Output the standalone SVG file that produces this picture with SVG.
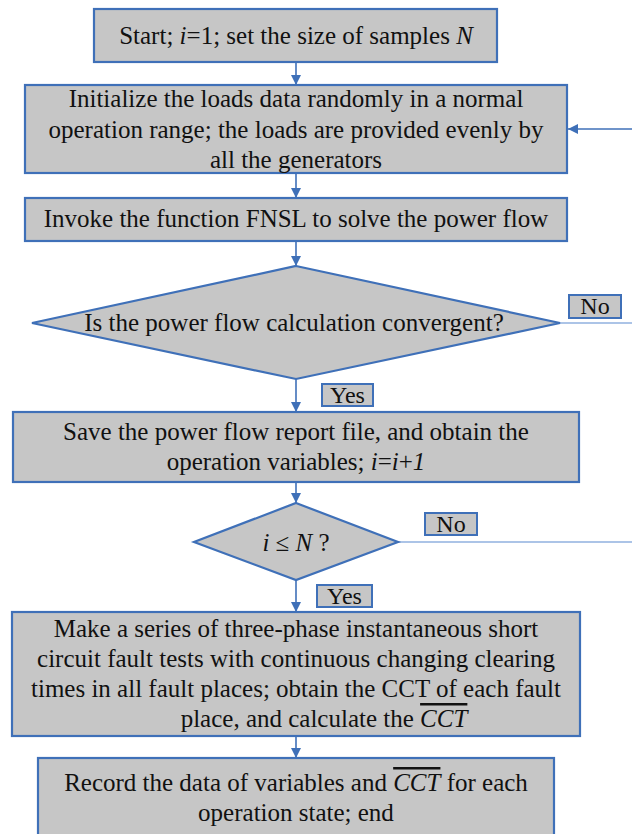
<svg xmlns="http://www.w3.org/2000/svg" width="632" height="834" viewBox="0 0 632 834">
<defs>
<marker id="ah" viewBox="0 0 10 10" refX="10" refY="5" markerWidth="10" markerHeight="10" markerUnits="userSpaceOnUse" orient="auto">
<path d="M0,0 L10,5 L0,10 Z" fill="#3f70b8"/>
</marker>
</defs>
<rect width="632" height="834" fill="#ffffff"/>
<g id="connectors" stroke="#3f70b8" stroke-width="1.6" fill="none">
<line x1="296" y1="62" x2="296" y2="85" marker-end="url(#ah)"/>
<line x1="296" y1="173" x2="296" y2="198" marker-end="url(#ah)"/>
<line x1="296" y1="241" x2="296" y2="266" marker-end="url(#ah)"/>
<line x1="296" y1="379" x2="296" y2="412" marker-end="url(#ah)"/>
<line x1="296" y1="482" x2="296" y2="503" marker-end="url(#ah)"/>
<line x1="296" y1="580" x2="296" y2="612" marker-end="url(#ah)"/>
<line x1="296" y1="736" x2="296" y2="758" marker-end="url(#ah)"/>
<line x1="560" y1="323" x2="632" y2="323" stroke="#5b8ad0" stroke-width="1.2"/>
<line x1="398" y1="542" x2="632" y2="542" stroke="#5b8ad0" stroke-width="1.2"/>
<line x1="632" y1="129" x2="568" y2="129" marker-end="url(#ah)"/>
</g>
<g id="nodes" fill="#c6c6c6" stroke="#3f70b8" stroke-width="2.2">
<g id="start"><rect x="94" y="9" width="403" height="53"/></g>
<g id="init"><rect x="25" y="85" width="542" height="88"/></g>
<g id="invoke"><rect x="25" y="198" width="542" height="43"/></g>
<g id="converge"><polygon points="296,266 560,323 296,379 32,323"/></g>
<g id="no1"><rect x="569" y="295" width="52" height="23" stroke-width="2"/></g>
<g id="yes1"><rect x="322" y="384" width="51" height="22" stroke-width="2"/></g>
<g id="save"><rect x="13" y="412" width="566" height="70"/></g>
<g id="check"><polygon points="296,503 398,542 296,580 194,542"/></g>
<g id="no2"><rect x="425" y="513" width="52" height="22" stroke-width="2"/></g>
<g id="yes2"><rect x="317" y="585" width="55" height="22" stroke-width="2"/></g>
<g id="fault"><rect x="12" y="612" width="568" height="124"/></g>
<g id="record"><rect x="38" y="758" width="516" height="90"/></g>
</g>
<g id="labels" font-family="Liberation Serif" font-size="25" text-anchor="middle" fill="#111111">
<text x="296" y="44">Start; <tspan font-style="italic">i</tspan>=1; set the size of samples <tspan font-style="italic">N</tspan></text>
<text x="296" y="107">Initialize the loads data randomly in a normal</text>
<text x="296" y="138">operation range; the loads are provided evenly by</text>
<text x="296" y="168">all the generators</text>
<text x="296" y="227">Invoke the function FNSL to solve the power flow</text>
<text x="294" y="331">Is the power flow calculation convergent?</text>
<text x="595" y="314" font-size="24">No</text>
<text x="347.5" y="403" font-size="24">Yes</text>
<text x="296" y="440">Save the power flow report file, and obtain the</text>
<text x="296" y="470">operation variables; <tspan font-style="italic">i</tspan>=<tspan font-style="italic">i</tspan>+<tspan font-style="italic">1</tspan></text>
<text x="296" y="551"><tspan font-style="italic">i</tspan> ≤ <tspan font-style="italic">N</tspan> ?</text>
<text x="451" y="532" font-size="24">No</text>
<text x="344.5" y="604" font-size="24">Yes</text>
<text x="296" y="637">Make a series of three-phase instantaneous short</text>
<text x="296" y="667">circuit fault tests with continuous changing clearing</text>
<text x="296" y="697">times in all fault places; obtain the CCT of each fault</text>
<text x="324" y="727">place, and calculate the  <tspan font-style="italic" text-decoration="overline">CCT</tspan></text>
<text x="296" y="791">Record the data of variables and <tspan font-style="italic" text-decoration="overline">CCT</tspan> for each</text>
<text x="296" y="821">operation state; end</text>
</g>
</svg>
